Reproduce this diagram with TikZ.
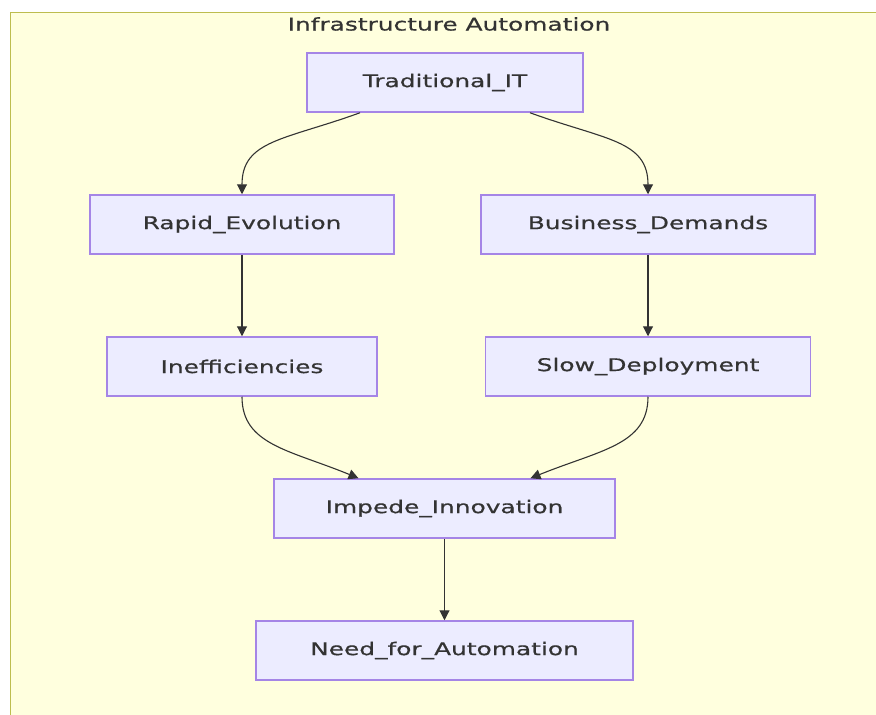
\documentclass[tikz,border=0pt]{standalone}
\usepackage{fontspec}
\setmainfont{DejaVu Sans}[FakeStretch=1.42,FakeBold=0.6]
\usetikzlibrary{arrows.meta}
\definecolor{clfill}{HTML}{FFFFDE}
\definecolor{clline}{HTML}{BDBD4F}
\definecolor{nfill}{HTML}{ECECFF}
\definecolor{nline}{HTML}{A585E6}
\definecolor{txt}{HTML}{333333}
\tikzset{
  box/.style={draw=nline, fill=nfill, line width=1.5pt, inner sep=0pt, minimum height=59pt, text=txt, font=\fontsize{17.5}{20}\selectfont},
  conn/.style={draw=txt, line width=1.1pt, -{Triangle[length=10pt,width=10pt]}}
}
\begin{document}
\begin{tikzpicture}[x=1pt,y=-1pt]
\useasboundingbox (0,0) rectangle (876,715);
\fill[white] (0,0) rectangle (876,715);
\draw[fill=clfill, draw=clline, line width=1.6pt] (10.5,12.5) rectangle (880,720);
\node[text=txt, font=\fontsize{17.5}{20}\selectfont] (title) at (449,24) {Infrastructure Automation};
\node[box, minimum width=276pt] (tit) at (445,82.5) {Traditional\_IT};
\node[box, minimum width=304pt] (rap) at (242,224.5) {Rapid\_Evolution};
\node[box, minimum width=334pt] (bus) at (648,224.5) {Business\_Demands};
\node[box, minimum width=270pt] (ine) at (242,366.5) {Inefficiencies};
\node[box, minimum width=325pt] (slo) at (648,366.5) {Slow\_Deployment};
\node[box, minimum width=341pt] (imp) at (444.5,508.5) {Impede\_Innovation};
\node[box, minimum width=377pt] (nee) at (444.5,650.5) {Need\_for\_Automation};
\draw[conn] ([xshift=-85pt]tit.south) .. controls (285,140) and (242,140) .. (rap.north);
\draw[conn] ([xshift=85pt]tit.south) .. controls (605,140) and (648,140) .. (bus.north);
\draw[conn] (rap.south) -- (ine.north);
\draw[conn] (bus.south) -- (slo.north);
\draw[conn] (ine.south) .. controls (242,445) and (290,450) .. ([xshift=-86pt]imp.north);
\draw[conn] (slo.south) .. controls (648,445) and (600,450) .. ([xshift=86pt]imp.north);
\draw[conn] (imp.south) -- (nee.north);
\end{tikzpicture}
\end{document}
